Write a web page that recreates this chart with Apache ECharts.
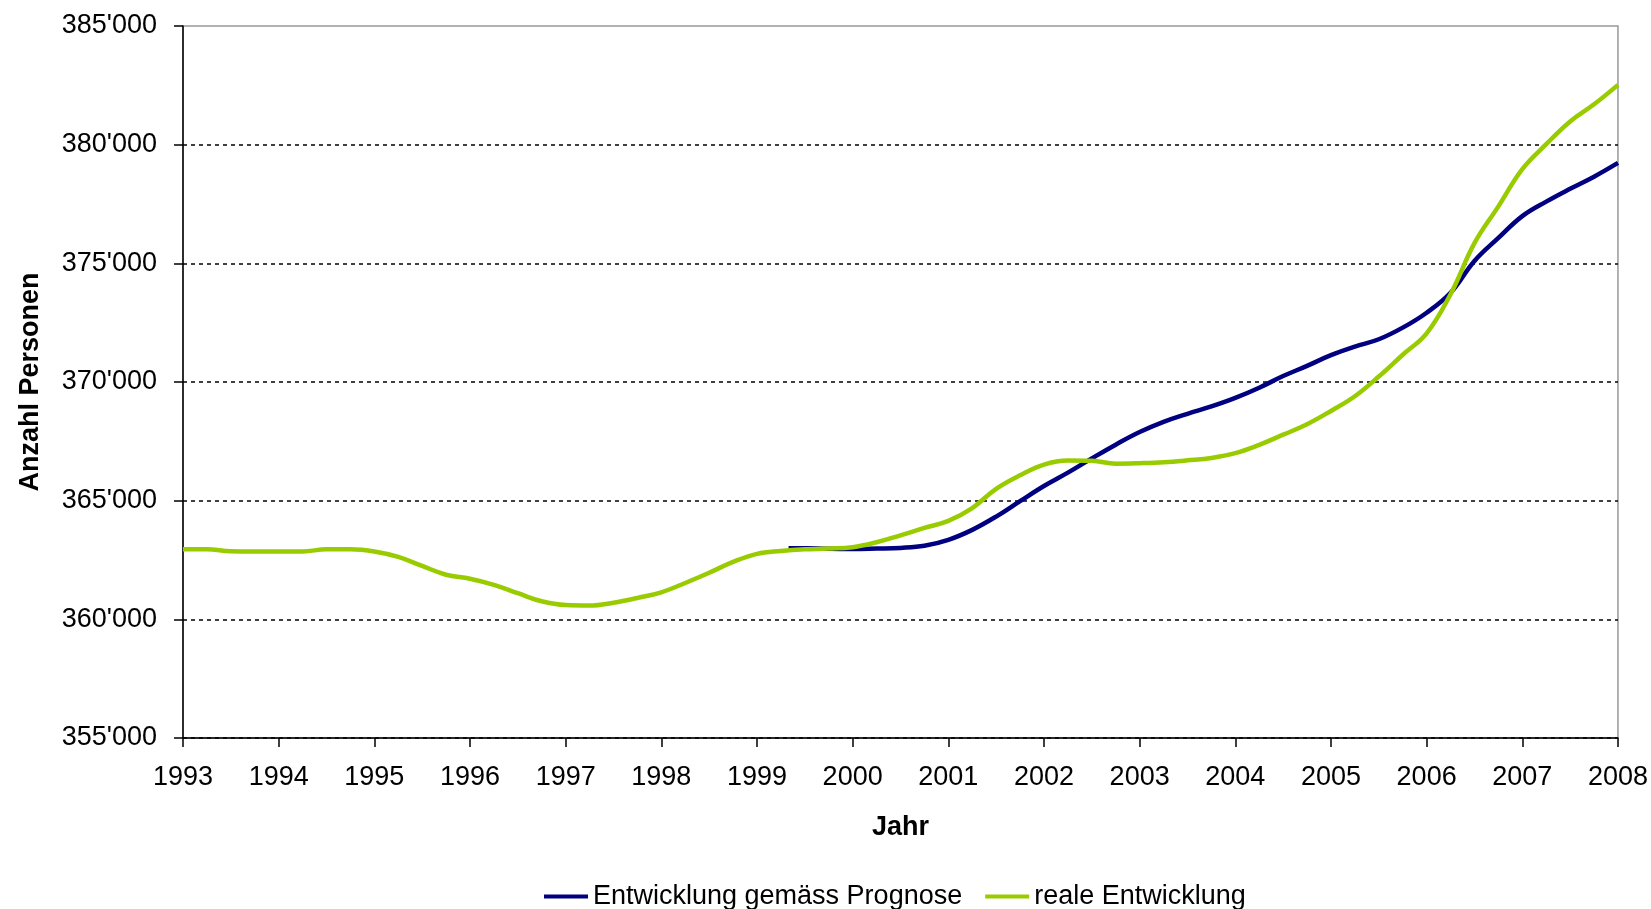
<!DOCTYPE html>
<html>
<head>
<meta charset="utf-8">
<script src="https://cdn.jsdelivr.net/npm/echarts@6/dist/echarts.min.js"></script>
<style>
  html, body { margin: 0; padding: 0; background: #fff; }
  #chart { width: 1651px; height: 909px; }
</style>
</head>
<body>
<div id="chart"></div>
<script>
// Jahr (decimal) and Anzahl Personen
const realYears = [
  1993.00, 1993.25, 1993.50, 1993.75, 1994.00, 1994.25, 1994.50, 1994.75,
  1995.00, 1995.25, 1995.50, 1995.75, 1996.00, 1996.25, 1996.50, 1996.75,
  1997.00, 1997.25, 1997.50, 1997.75, 1998.00, 1998.25, 1998.50, 1998.75,
  1999.00, 1999.25, 1999.50, 1999.75, 2000.00, 2000.25, 2000.50, 2000.75,
  2001.00, 2001.25, 2001.50, 2001.75, 2002.00, 2002.25, 2002.50, 2002.75,
  2003.00, 2003.25, 2003.50, 2003.75, 2004.00, 2004.25, 2004.50, 2004.75,
  2005.00, 2005.25, 2005.50, 2005.75, 2006.00, 2006.25, 2006.50, 2006.75,
  2007.00, 2007.25, 2007.50, 2007.75, 2008.00
];
const realValues = [
  362950, 362950, 362870, 362860, 362860, 362860, 362950, 362950,
  362860, 362630, 362250, 361880, 361710, 361450, 361100, 360760,
  360600, 360580, 360700, 360900, 361140, 361530, 361960, 362420,
  362760, 362880, 362950, 362980, 363040, 363250, 363540, 363850,
  364150, 364690, 365500, 366070, 366520, 366690, 366680, 366560,
  366580, 366620, 366700, 366800, 367000, 367350, 367780, 368220,
  368780, 369400, 370230, 371150, 372050, 373700, 375850, 377400,
  378970, 380020, 380980, 381700, 382520
];
const prognoseYears = [
  1999.33, 1999.50, 1999.75, 2000.00, 2000.25, 2000.50, 2000.75,
  2001.00, 2001.25, 2001.50, 2001.75, 2002.00, 2002.25, 2002.50, 2002.75,
  2003.00, 2003.25, 2003.50, 2003.75, 2004.00, 2004.25, 2004.50, 2004.75,
  2005.00, 2005.25, 2005.50, 2005.75, 2006.00, 2006.25, 2006.50, 2006.75,
  2007.00, 2007.25, 2007.50, 2007.75, 2008.00
];
const prognoseValues = [
  363000, 363000, 362970, 362960, 362980, 363010, 363100,
  363350, 363770, 364330, 364980, 365620, 366180, 366780, 367360,
  367890, 368320, 368660, 368970, 369330, 369760, 370250, 370680,
  371130, 371490, 371800, 372290, 372920, 373760, 375100, 376070,
  376990, 377600, 378140, 378650, 379230
];
const seriesNames = ['Entwicklung gemäss Prognose', 'reale Entwicklung'];

const font = "'Liberation Sans', Arial, sans-serif";
const fmt = v => String(v).replace(/\B(?=(\d{3})+(?!\d))/g, "'");

const chart = echarts.init(document.getElementById('chart'));
const option = {
  animation: false,
  grid: {
    left: 183, right: 33, top: 26, bottom: 171,
    show: true, borderColor: '#999', borderWidth: 1.5, backgroundColor: '#fff'
  },
  legend: {
    data: seriesNames.map(n => ({name: n, icon: 'rect'})),
    left: 539, top: 878,
    itemWidth: 44, itemHeight: 4, itemGap: 23,
    textStyle: {fontSize: 27, color: '#000', fontFamily: font}
  },
  xAxis: {
    type: 'value', min: 1993, max: 2008, interval: 1,
    name: 'Jahr', nameLocation: 'middle', nameGap: 76,
    nameTextStyle: {fontSize: 27, fontWeight: 'bold', color: '#000', fontFamily: font},
    axisLine: {lineStyle: {color: '#000', width: 1.5}},
    axisTick: {show: true, length: 9, lineStyle: {color: '#000', width: 1.5}},
    axisLabel: {fontSize: 27, color: '#000', fontFamily: font, margin: 26, formatter: v => String(v)},
    splitLine: {show: false}
  },
  yAxis: {
    type: 'value', min: 355000, max: 385000, interval: 5000,
    name: 'Anzahl Personen', nameLocation: 'middle', nameGap: 139,
    nameTextStyle: {fontSize: 27, fontWeight: 'bold', color: '#000', fontFamily: font},
    axisLine: {show: true, lineStyle: {color: '#000', width: 1.5}},
    axisTick: {show: true, length: 9, lineStyle: {color: '#000', width: 1.5}},
    axisLabel: {fontSize: 27, color: '#000', fontFamily: font, margin: 26, formatter: fmt},
    splitLine: {
      show: true,
      lineStyle: {
        color: ['#000', '#000', '#000', '#000', '#000', '#000', 'transparent'],
        type: [4, 4], width: 1.5
      }
    }
  },
  series: [
    {
      name: seriesNames[0], type: 'line', smooth: 0.4, showSymbol: false,
      color: '#000080', lineStyle: {width: 4.5, color: '#000080'},
      data: prognoseYears.map((y, i) => [y, prognoseValues[i]])
    },
    {
      name: seriesNames[1], type: 'line', smooth: 0.4, showSymbol: false,
      color: '#99CC00', lineStyle: {width: 4.5, color: '#99CC00'},
      data: realYears.map((y, i) => [y, realValues[i]])
    }
  ]
};
option && chart.setOption(option);
</script>
</body>
</html>
